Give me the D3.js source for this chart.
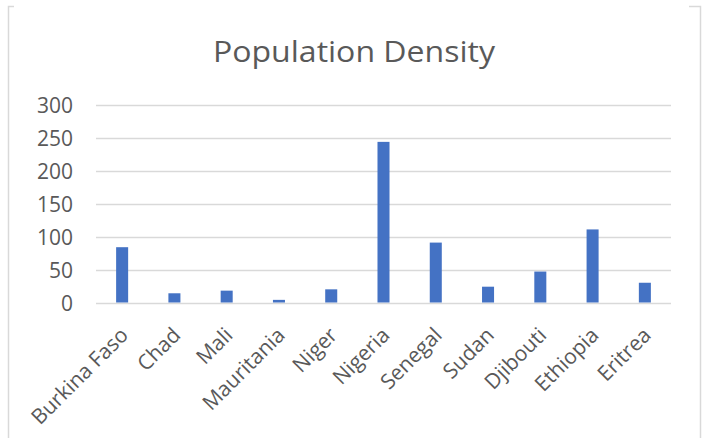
<!DOCTYPE html>
<html>
<head>
<meta charset="utf-8">
<script src="https://cdn.jsdelivr.net/npm/d3@7"></script>
<style>
  body { margin: 0; background: #fff; }
  text { font-family: "Open Sans", sans-serif; fill: #595959; }
</style>
</head>
<body>
<div id="chart"></div>
<script>
var countries = ["Burkina Faso", "Chad", "Mali", "Mauritania", "Niger", "Nigeria",
                 "Senegal", "Sudan", "Djibouti", "Ethiopia", "Eritrea"];
var density = [84, 14, 18, 4, 20, 244, 91, 24, 47, 111, 30];
var yTicks = [0, 50, 100, 150, 200, 250, 300];

var width = 706,
    height = 438,
    margin = {left: 96, right: 35, top: 105, bottom: 136};

var svg = d3.select("#chart")
  .append("svg")
    .attr("width", width)
    .attr("height", height);

// chart frame (only sides + top corners visible)
svg.append("path")
  .attr("d", "M8.5,438 V6.5 H14 M689,6.5 H700.5 V438")
  .attr("fill", "none")
  .attr("stroke", "#d9d9d9")
  .attr("stroke-width", 1.5);

svg.append("text")
  .attr("x", 354)
  .attr("y", 62)
  .attr("text-anchor", "middle")
  .attr("font-size", 29)
  .attr("textLength", 282)
  .attr("lengthAdjust", "spacingAndGlyphs")
  .text("Population Density");

var x = d3.scaleBand()
  .domain(countries)
  .range([margin.left, width - margin.right])
  .paddingInner(0.77)
  .paddingOuter(0.385);

var y = d3.scaleLinear()
  .domain([0, 300])
  .range([height - margin.bottom + 0.5, margin.top]);

var chart = svg.append("g");

// gridlines
chart.append("g")
  .selectAll("line")
  .data(yTicks)
  .join("line")
    .attr("x1", margin.left)
    .attr("x2", width - margin.right)
    .attr("y1", function (d) { return Math.round(y(d)) + 0.5; })
    .attr("y2", function (d) { return Math.round(y(d)) + 0.5; })
    .attr("stroke", "#d9d9d9")
    .attr("stroke-width", 1.5);

// y labels
var yAxis = chart.append("g")
  .attr("transform", "translate(" + (margin.left - 23) + ",0)")
  .call(d3.axisLeft(y).tickValues(yTicks).tickSize(0).tickPadding(0));
yAxis.select(".domain").remove();
yAxis.selectAll("text")
  .attr("font-size", 21)
  .attr("font-family", "'Open Sans', sans-serif")
  .attr("fill", "#595959")
  .attr("dy", "0.36em");

// bars
chart.append("g")
  .selectAll("rect")
  .data(countries)
  .join("rect")
    .attr("x", function (d) { return x(d); })
    .attr("width", x.bandwidth())
    .attr("y", function (d, i) { return y(density[i]); })
    .attr("height", function (d, i) { return y(0) - y(density[i]); })
    .attr("fill", "#4472c4");

// x labels, rotated
chart.append("g")
  .selectAll("text")
  .data(countries)
  .join("text")
    .attr("transform", function (d) {
      return "translate(" + (x(d) + x.bandwidth() / 2 - 3) + "," + 326 + ") rotate(-45)";
    })
    .attr("text-anchor", "end")
    .attr("dy", "0.7em")
    .attr("font-size", 21)
    .text(function (d) { return d; });
</script>
</body>
</html>
